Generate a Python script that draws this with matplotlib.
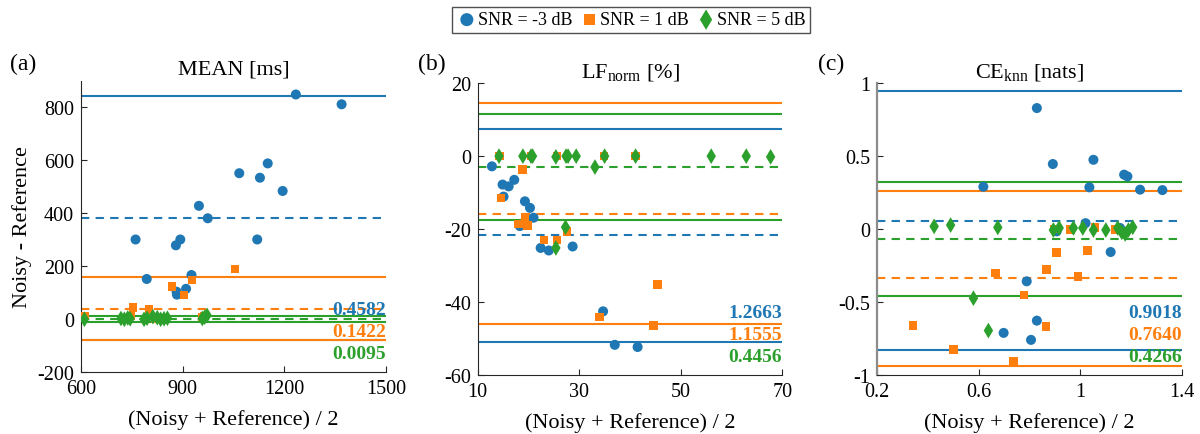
import matplotlib
matplotlib.use("Agg")
import matplotlib.pyplot as plt

plt.rcParams['font.family'] = 'serif'
plt.rcParams['font.serif'] = ['Liberation Serif', 'DejaVu Serif']
plt.rcParams['mathtext.fontset'] = 'custom'
plt.rcParams['mathtext.rm'] = 'Liberation Serif'
plt.rcParams['mathtext.it'] = 'Liberation Serif:italic'
plt.rcParams['axes.unicode_minus'] = False

colors = ['#1f77b4', '#ff7f0e', '#2ca02c']
markers = ['o', 's', 'd']
sizes = [52, 38, 64]
snr_labels = ['SNR = -3 dB', 'SNR = 1 dB', 'SNR = 5 dB']

# (a) MEAN [ms]
a_blue_x = [1234, 1369, 1067, 1128, 1151, 1195, 948, 974, 761, 893, 880, 1120, 794, 926, 910, 882, 883]
a_blue_y = [848, 811, 551, 534, 588, 484, 428, 381, 301, 301, 279, 301, 152, 167, 115, 104, 93]
a_orange_x = [612, 747, 753, 801, 868, 904, 928, 1054, 957, 965, 730, 820, 845]
a_orange_y = [12, 12, 44, 37, 123, 91, 148, 189, 8, 12, 2, 4, 0]
a_green_x = [610, 718, 728, 738, 745, 786, 795, 812, 825, 835, 845, 855, 958, 965, 972]
a_green_y = [0, 3, 0, 5, 2, 0, 4, 10, 6, 0, 2, 4, 3, 8, 15]
a_mean = [383, 40, 1]
a_upper = [843, 159, 11]
a_lower = [-77, -78, -9]
a_labels = ['0.4582', '0.1422', '0.0095']

# (b) LF norm [%]
b_blue_x = [12.8, 14.9, 16.1, 17.2, 15.1, 19.3, 20.3, 21.0, 18.3, 22.4, 24.0, 28.7, 34.7, 37.0, 41.5]
b_blue_y = [-2.8, -7.8, -8.3, -6.5, -11.1, -12.4, -14.2, -16.9, -19.2, -25.2, -25.9, -24.8, -42.6, -51.8, -52.4]
b_orange_x = [14.3, 20.5, 25.6, 34.9, 41.1, 14.6, 18.8, 18.0, 19.8, 19.3, 23.1, 25.6, 27.6, 34.0, 45.4, 44.6]
b_orange_y = [0, 0, 0, 0, 0, -11.5, -3.6, -18.6, -19.0, -16.9, -23.0, -23.0, -20.7, -44.2, -35.3, -46.5]
b_green_x = [14.2, 18.9, 20.5, 20.8, 25.4, 27.4, 27.8, 29.4, 33.1, 35.0, 41.1, 56.0, 62.9, 67.7, 27.3, 25.4]
b_green_y = [0, 0, 0, 0, -0.2, 0, 0, 0, -3.0, 0, 0, 0, 0, -0.2, -19.5, -25.2]
b_mean = [-21.6, -15.8, -2.85]
b_upper = [7.5, 14.6, 11.6]
b_lower = [-51.0, -46.0, -17.4]
b_labels = ['1.2663', '1.1555', '0.4456']

# (c) CE knn [nats]
c_blue_x = [0.829, 0.892, 1.052, 0.618, 1.036, 1.173, 1.186, 1.236, 1.324, 0.907, 1.021, 1.157, 1.120, 0.789, 0.698, 0.829, 0.806]
c_blue_y = [0.830, 0.446, 0.475, 0.290, 0.286, 0.373, 0.361, 0.270, 0.267, -0.016, 0.040, 0.007, -0.158, -0.359, -0.713, -0.629, -0.761]
c_orange_x = [0.340, 0.500, 0.667, 0.736, 0.778, 0.868, 0.865, 0.906, 0.991, 1.028, 0.897, 0.962, 1.058, 1.137]
c_orange_y = [-0.663, -0.828, -0.302, -0.908, -0.453, -0.279, -0.668, -0.162, -0.327, -0.147, 0.0, -0.005, 0.01, -0.005]
c_green_x = [0.424, 0.489, 0.675, 0.894, 0.917, 0.973, 1.010, 1.052, 1.101, 1.148, 1.164, 1.177, 1.190, 1.207, 0.579, 0.638]
c_green_y = [0.018, 0.027, 0.011, -0.007, 0.007, 0.007, 0.007, -0.007, -0.007, 0.007, -0.023, -0.034, -0.007, 0.012, -0.475, -0.697]
c_mean = [0.057, -0.338, -0.066]
c_upper = [0.945, 0.258, 0.325]
c_lower = [-0.830, -0.937, -0.459]
c_labels = ['0.9018', '0.7640', '0.4266']

panels = [
    dict(xs=[a_blue_x, a_orange_x, a_green_x], ys=[a_blue_y, a_orange_y, a_green_y],
         mean=a_mean, upper=a_upper, lower=a_lower, labels=a_labels,
         title='MEAN [ms]', tag='(a)', tag_x=10, xlim=(600, 1500), ylim=(-200, 900),
         xticks=[600, 900, 1200, 1500], xtl=['600', '900', '1200', '1500'],
         yticks=[-200, 0, 200, 400, 600, 800], ytl=['-200', '0', '200', '400', '600', '800'],
         pos=[81 / 1200, 1 - 373.3 / 435, 305 / 1200, 291.6 / 435]),
    dict(xs=[b_blue_x, b_orange_x, b_green_x], ys=[b_blue_y, b_orange_y, b_green_y],
         mean=b_mean, upper=b_upper, lower=b_lower, labels=b_labels,
         title=r'LF$_{\mathrm{norm}}$ [%]', tag='(b)', tag_x=418, xlim=(10, 70), ylim=(-60, 20),
         xticks=[10, 30, 50, 70], xtl=['10', '30', '50', '70'],
         yticks=[-60, -40, -20, 0, 20], ytl=['-60', '-40', '-20', '0', '20'],
         pos=[477.7 / 1200, 1 - 375.7 / 435, 304.6 / 1200, 291.4 / 435]),
    dict(xs=[c_blue_x, c_orange_x, c_green_x], ys=[c_blue_y, c_orange_y, c_green_y],
         mean=c_mean, upper=c_upper, lower=c_lower, labels=c_labels,
         title=r'CE$_{\mathrm{knn}}$ [nats]', tag='(c)', tag_x=818, xlim=(0.2, 1.4), ylim=(-1, 1),
         xticks=[0.2, 0.6, 1.0, 1.4], xtl=['0.2', '0.6', '1', '1.4'],
         yticks=[-1, -0.5, 0, 0.5, 1], ytl=['-1', '-0.5', '0', '0.5', '1'],
         pos=[877.3 / 1200, 1 - 375.7 / 435, 304.4 / 1200, 291.4 / 435]),
]

fig = plt.figure(figsize=(12, 4.35), dpi=100)
label_y = [0.215, 0.139, 0.063]
handles = []

for k, p in enumerate(panels):
    ax = fig.add_axes(p['pos'])
    for i in range(3):
        ax.axhline(p['upper'][i], color=colors[i], lw=1.5, zorder=2)
        ax.axhline(p['lower'][i], color=colors[i], lw=1.5, zorder=2)
        ax.axhline(p['mean'][i], color=colors[i], lw=1.5, ls=(0, (4, 3)), zorder=2)
    for i in range(3):
        h = ax.scatter(p['xs'][i], p['ys'][i], s=sizes[i], marker=markers[i],
                       color=colors[i], edgecolors='none', zorder=3, label=snr_labels[i])
        if k == 0:
            handles.append(h)
    for i in range(3):
        ax.text(1.0, label_y[i], p['labels'][i], transform=ax.transAxes, ha='right',
                va='center', color=colors[i], fontsize=14, fontweight='bold', zorder=5)
    ax.set_xlim(p['xlim'])
    ax.set_ylim(p['ylim'])
    ax.set_xticks(p['xticks'])
    ax.set_xticklabels(p['xtl'])
    ax.set_yticks(p['yticks'])
    ax.set_yticklabels(p['ytl'])
    ax.tick_params(direction='in', length=4, width=0.8, labelsize=14.5, colors='#262626',
                   labelcolor='black', pad=5)
    for side in ['top', 'right']:
        ax.spines[side].set_visible(False)
    for side in ['left', 'bottom']:
        ax.spines[side].set_color('#262626')
        ax.spines[side].set_linewidth(0.8)
    if k == 2:
        ax.spines['left'].set_color('#8c8c8c')
        ax.spines['left'].set_linewidth(1.6)
    ax.set_title(p['title'], fontsize=16, pad=5)
    ax.set_xlabel('(Noisy + Reference) / 2', fontsize=16, labelpad=8)
    if k == 0:
        ax.set_ylabel('Noisy - Reference', fontsize=16, labelpad=4)
    fig.text(p['tag_x'] / 1200, 1 - 64 / 435, p['tag'], fontsize=17, ha='left', va='center')

fig.legend(handles=handles, loc='center', bbox_to_anchor=(0.526, 0.952), ncol=3,
           fontsize=13, frameon=True, fancybox=False, edgecolor='#262626',
           handletextpad=0.05, columnspacing=0.4, borderpad=0.25, handlelength=1.1,
           borderaxespad=0, markerscale=1.3)

fig.savefig('out.png', dpi=100)
